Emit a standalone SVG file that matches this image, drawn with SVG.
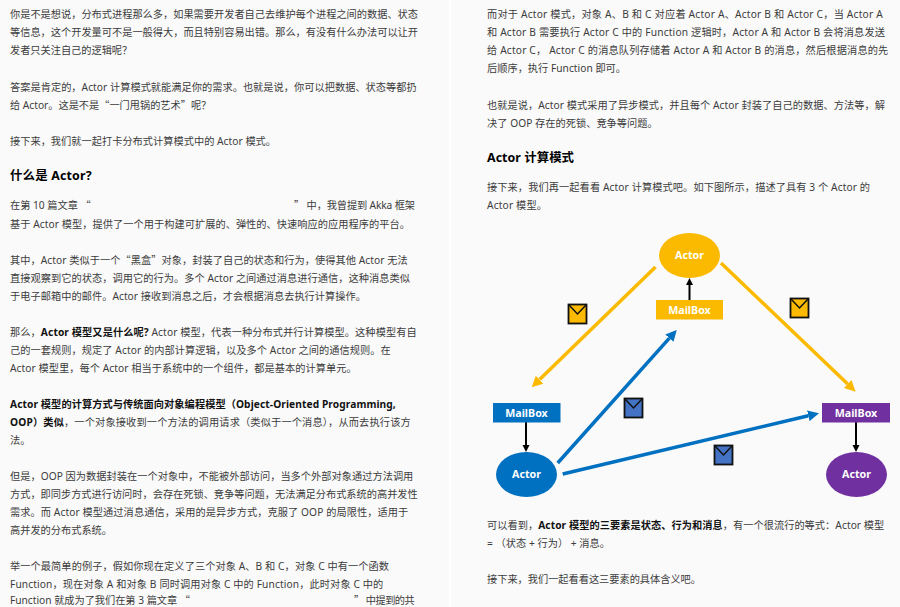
<svg xmlns="http://www.w3.org/2000/svg" width="900" height="607" viewBox="0 0 900 607">
<style>
text{font-family:"Noto Sans","Noto Sans CJK SC",sans-serif}
.p{font-size:10.2px;fill:#3c3c3c}
.b{font-weight:700;fill:#111}
.q{font-family:"Noto Sans CJK SC",sans-serif}
.h{font-size:12.4px;font-weight:700;fill:#000}
.l{font-size:10.7px;font-weight:700;fill:#fff;text-anchor:middle}
.a{fill:none;stroke-width:3.5}
.k{stroke:#000;stroke-width:2}
.e{stroke:#111;stroke-width:1.8}
.f{fill:none;stroke:#111;stroke-width:1.5}
</style>
<defs>
<marker id="my" markerUnits="userSpaceOnUse" markerWidth="12" markerHeight="12" refX="0" refY="6" orient="auto"><path d="M0,.5L11,6L0,11.5z" fill="#fbba00"/></marker>
<marker id="mb" markerUnits="userSpaceOnUse" markerWidth="12" markerHeight="12" refX="0" refY="6" orient="auto"><path d="M0,.5L11,6L0,11.5z" fill="#0070c0"/></marker>
<marker id="mk" markerUnits="userSpaceOnUse" markerWidth="8" markerHeight="8" refX="0" refY="4" orient="auto"><path d="M0,.5L7,4L0,7.5z" fill="#000"/></marker>
</defs>
<rect width="900" height="607" fill="#fafafa"/>
<rect x="449" width="2" height="607" fill="#fff"/>
<g id="left-text">
<text class="p" x="10" y="18" textLength="408">你是不是想说，分布式进程那么多，如果需要开发者自己去维护每个进程之间的数据、状态</text>
<text class="p" x="10" y="36" textLength="408">等信息，这个开发量可不是一般得大，而且特别容易出错。那么，有没有什么办法可以让开</text>
<text class="p" x="10" y="54">发者只关注自己的逻辑呢？</text>
<text class="p" x="10" y="91" textLength="406.7">答案是肯定的，Actor 计算模式就能满足你的需求。也就是说，你可以把数据、状态等都扔</text>
<text class="p" x="10" y="109">给 Actor。这是不是<tspan class="q">“</tspan>一门甩锅的艺术<tspan class="q">”</tspan>呢？</text>
<text class="p" x="10" y="145" textLength="266">接下来，我们就一起打卡分布式计算模式中的 Actor 模式。</text>
<text class="h" x="10" y="180" textLength="81.7">什么是 Actor?</text>
<text class="p" x="10" y="209">在第 10 篇文章 <tspan class="q">“</tspan></text>
<text class="p" x="294" y="209" textLength="121"><tspan class="q">”</tspan> 中，我曾提到 Akka 框架</text>
<text class="p" x="10" y="228" textLength="400">基于 Actor 模型，提供了一个用于构建可扩展的、弹性的、快速响应的应用程序的平台。</text>
<text class="p" x="10" y="264" textLength="397.7">其中，Actor 类似于一个<tspan class="q">“</tspan>黑盒<tspan class="q">”</tspan>对象，封装了自己的状态和行为，使得其他 Actor 无法</text>
<text class="p" x="10" y="282" textLength="400">直接观察到它的状态，调用它的行为。多个 Actor 之间通过消息进行通信，这种消息类似</text>
<text class="p" x="10" y="300" textLength="356">于电子邮箱中的邮件。Actor 接收到消息之后，才会根据消息去执行计算操作。</text>
<text class="p" x="10" y="336" textLength="406.7">那么，<tspan class="b">Actor 模型又是什么呢?</tspan> Actor 模型，代表一种分布式并行计算模型。这种模型有自</text>
<text class="p" x="10" y="354" textLength="380.7">己的一套规则，规定了 Actor 的内部计算逻辑，以及多个 Actor 之间的通信规则。在</text>
<text class="p" x="10" y="372" textLength="346.7">Actor 模型里，每个 Actor 相当于系统中的一个组件，都是基本的计算单元。</text>
<text class="p" x="10" y="408" textLength="385.7"><tspan class="b">Actor 模型的计算方式与传统面向对象编程模型（Object-Oriented Programming,</tspan></text>
<text class="p" x="10" y="426" textLength="400.7"><tspan class="b">OOP）类似</tspan>，一个对象接收到一个方法的调用请求（类似于一个消息），从而去执行该方</text>
<text class="p" x="10" y="444">法。</text>
<text class="p" x="10" y="480" textLength="403.3">但是，OOP 因为数据封装在一个对象中，不能被外部访问，当多个外部对象通过方法调用</text>
<text class="p" x="10" y="498" textLength="407.7">方式，即同步方式进行访问时，会存在死锁、竞争等问题，无法满足分布式系统的高并发性</text>
<text class="p" x="10" y="516" textLength="398.3">需求。而 Actor 模型通过消息通信，采用的是异步方式，克服了 OOP 的局限性，适用于</text>
<text class="p" x="10" y="534" textLength="102">高并发的分布式系统。</text>
<text class="p" x="10" y="570" textLength="379">举一个最简单的例子，假如你现在定义了三个对象 A、B 和 C，对象 C 中有一个函数</text>
<text class="p" x="10" y="588" textLength="373.3">Function，现在对象 A 和对象 B 同时调用对象 C 中的 Function，此时对象 C 中的</text>
<text class="p" x="10" y="604" textLength="180">Function 就成为了我们在第 3 篇文章 <tspan class="q">“</tspan></text>
<text class="p" x="354" y="604" textLength="60.7"><tspan class="q">”</tspan> 中提到的共</text>
</g>
<g id="right-text">
<text class="p" x="487" y="18" textLength="395.7">而对于 Actor 模式，对象 A、B 和 C 对应着 Actor A、Actor B 和 Actor C，当 Actor A</text>
<text class="p" x="487" y="36" textLength="398">和 Actor B 需要执行 Actor C 中的 Function 逻辑时，Actor A 和 Actor B 会将消息发送</text>
<text class="p" x="487" y="54" textLength="401.3">给 Actor C， Actor C 的消息队列存储着 Actor A 和 Actor B 的消息，然后根据消息的先</text>
<text class="p" x="487" y="72" textLength="139">后顺序，执行 Function 即可。</text>
<text class="p" x="487" y="109" textLength="398">也就是说，Actor 模式采用了异步模式，并且每个 Actor 封装了自己的数据、方法等，解</text>
<text class="p" x="487" y="127" textLength="170.7">决了 OOP 存在的死锁、竞争等问题。</text>
<text class="h" x="487" y="162" textLength="87">Actor 计算模式</text>
<text class="p" x="487" y="191" textLength="383">接下来，我们再一起看看 Actor 计算模式吧。如下图所示，描述了具有 3 个 Actor 的</text>
<text class="p" x="487" y="209" textLength="60">Actor 模型。</text>
<text class="p" x="487" y="529" textLength="397.3">可以看到，<tspan class="b">Actor 模型的三要素是状态、行为和消息</tspan>，有一个很流行的等式：Actor 模型</text>
<text class="p" x="487" y="547" textLength="123">= （状态 + 行为） + 消息。</text>
<text class="p" x="487" y="583" textLength="214">接下来，我们一起看看这三要素的具体含义吧。</text>
</g>
<g id="connectors">
<line class="a" x1="655.5" y1="267" x2="539.6" y2="379.6" stroke="#fbba00" marker-end="url(#my)"/>
<line class="a" x1="721" y1="263" x2="847.7" y2="384.1" stroke="#fbba00" marker-end="url(#my)"/>
<line class="a" x1="557.7" y1="463" x2="669.4" y2="338.2" stroke="#0070c0" marker-end="url(#mb)"/>
<line class="a" x1="562.7" y1="474" x2="808.3" y2="415.8" stroke="#0070c0" marker-end="url(#mb)"/>
<line class="k" x1="689.5" y1="300" x2="689.5" y2="285" marker-end="url(#mk)"/>
<line class="k" x1="526" y1="422" x2="526" y2="445" marker-end="url(#mk)"/>
<line class="k" x1="856" y1="422" x2="856" y2="445" marker-end="url(#mk)"/>
</g>
<g id="actor-top"><ellipse cx="689.5" cy="255.5" rx="30.5" ry="22.5" fill="#fbba00"/><text class="l" x="689.5" y="259">Actor</text></g>
<g id="mailbox-top"><rect x="656" y="300" width="67" height="19.5" fill="#fbba00"/><text class="l" x="689.5" y="313.5">MailBox</text></g>
<g id="mailbox-left"><rect x="493" y="403" width="67.5" height="19.5" fill="#0070c0"/><text class="l" x="526.5" y="416.5">MailBox</text></g>
<g id="actor-left"><ellipse cx="526.5" cy="474.5" rx="30.5" ry="22.5" fill="#0070c0"/><text class="l" x="526.5" y="478">Actor</text></g>
<g id="mailbox-right"><rect x="822" y="403" width="68" height="19.5" fill="#7030a0"/><text class="l" x="856" y="416.5">MailBox</text></g>
<g id="actor-right"><ellipse cx="856.5" cy="474.5" rx="30.5" ry="22.5" fill="#7030a0"/><text class="l" x="856.5" y="478">Actor</text></g>
<g id="envelope-1"><rect class="e" x="568.5" y="304.5" width="18" height="19" fill="#fbba00"/><path class="f" d="M569,305L577.5,314L586,305"/></g>
<g id="envelope-2"><rect class="e" x="790.5" y="298.5" width="18" height="19" fill="#fbba00"/><path class="f" d="M791,299L799.5,308L808,299"/></g>
<g id="envelope-3"><rect class="e" x="624.5" y="398.5" width="18" height="19" fill="#4472c4"/><path class="f" d="M625,399L633.5,408L642,399"/></g>
<g id="envelope-4"><rect class="e" x="714.5" y="445.5" width="18" height="19" fill="#4472c4"/><path class="f" d="M715,446L723.5,455L732,446"/></g>
</svg>
